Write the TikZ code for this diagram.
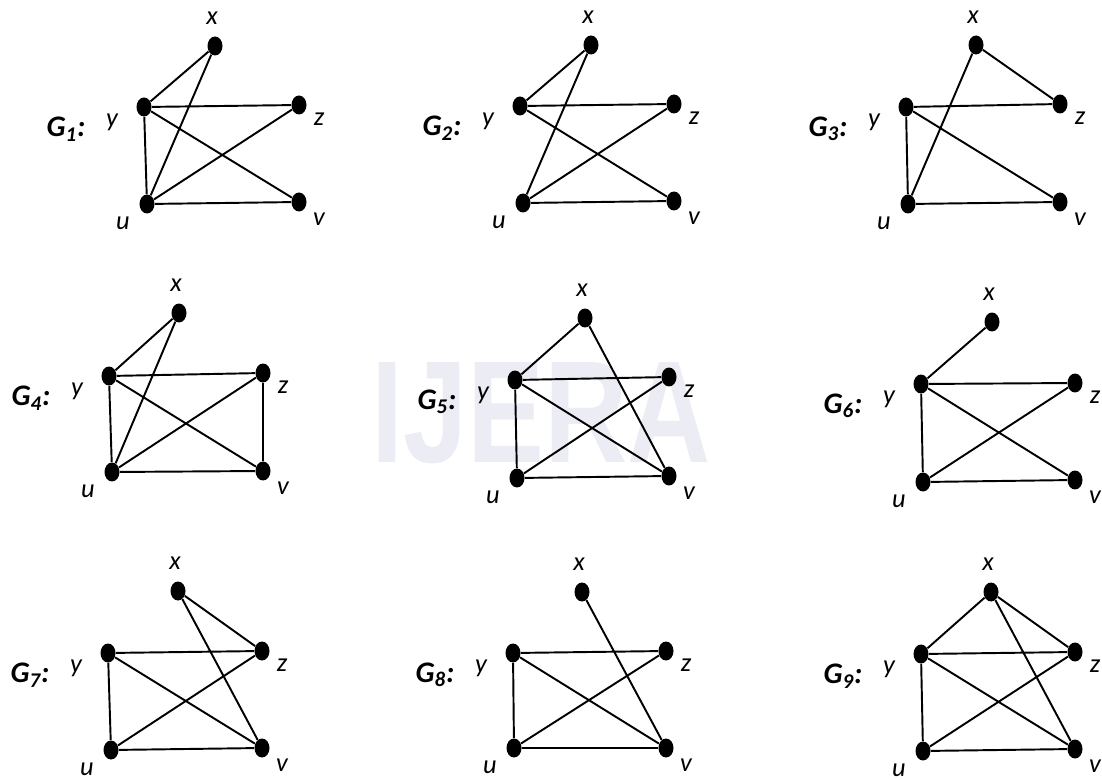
\documentclass[tikz,border=0pt]{standalone}
\usepackage{fontspec}
\setmainfont{Carlito}
\newfontfamily\wmfont{Liberation Sans}
\usetikzlibrary{shapes.geometric, positioning}
\definecolor{wmgray}{RGB}{236,237,244}

\newcommand{\graphverts}[6]{%
  % the five vertices of G_#1 and their labels
  \node[vtx] (x#1) at #2 {};
  \node[vtx] (y#1) at #3 {};
  \node[vtx] (z#1) at #4 {};
  \node[vtx] (u#1) at #5 {};
  \node[vtx] (v#1) at #6 {};
  \node[vlbl] (lx#1) at ([shift={(-3,-28)}] x#1) {x};
  \node[vlbl] (ly#1) at ([shift={(-32,15)}] y#1) {y};
  \node[vlbl] (lz#1) at ([shift={(20,14)}] z#1) {z};
  \node[vlbl] (lu#1) at ([shift={(-24,19)}] u#1) {u};
  \node[vlbl] (lv#1) at ([shift={(20,17)}] v#1) {v};
  \node[glbl] (g#1) at ([shift={(-78,22)}] y#1) {G\textsubscript{#1}:};
}

\begin{document}
\begin{tikzpicture}[
    x=0.02cm, y=-0.02cm,
    vtx/.style={ellipse, fill=black, inner sep=0pt, minimum width=0.3cm, minimum height=0.38cm},
    edge/.style={line width=1.1pt},
    vlbl/.style={font=\fontsize{15}{18}\selectfont\itshape, inner sep=0pt},
    glbl/.style={font=\fontsize{17}{20}\selectfont\bfseries\itshape, inner sep=0pt},
    wmark/.style={text=wmgray, inner sep=0pt}
  ]
  \useasboundingbox (0,0) rectangle (1102,780);
  % faint journal watermark
  \node[wmark] (ijera) at (541,413) {\resizebox{6.8cm}{2.0cm}{\wmfont\bfseries IJERA}};

  % top row
  \graphverts{1}{(215,46)}{(144,107)}{(299,105)}{(147,204)}{(299,202)}
  \draw[edge] (x1) -- (y1) (x1) -- (u1) (y1) -- (z1) (y1) -- (v1)
    (y1) -- (u1) (u1) -- (z1) (u1) -- (v1);

  \graphverts{2}{(591,45)}{(520,106)}{(674,104)}{(523,203)}{(674,201)}
  \draw[edge] (x2) -- (y2) (x2) -- (u2) (y2) -- (z2) (y2) -- (v2)
    (u2) -- (z2) (u2) -- (v2);

  \graphverts{3}{(976,45)}{(906,107)}{(1060,104)}{(908,204)}{(1060,202)}
  \draw[edge] (x3) -- (z3) (x3) -- (u3) (y3) -- (z3) (y3) -- (v3)
    (y3) -- (u3) (u3) -- (v3);

  % middle row
  \graphverts{4}{(179,313)}{(109,376)}{(263,373)}{(112,472)}{(263,471)}
  \draw[edge] (x4) -- (y4) (x4) -- (u4) (y4) -- (z4) (y4) -- (v4)
    (y4) -- (u4) (u4) -- (z4) (u4) -- (v4) (z4) -- (v4);

  \graphverts{5}{(585,318)}{(515,380)}{(669,377)}{(517,478)}{(669,476)}
  \draw[edge] (x5) -- (y5) (x5) -- (v5) (y5) -- (z5) (y5) -- (v5)
    (y5) -- (u5) (u5) -- (z5) (u5) -- (v5);

  \graphverts{6}{(992,322)}{(921,384)}{(1075,383)}{(923,482)}{(1075,480)}
  \draw[edge] (x6) -- (y6) (y6) -- (z6) (y6) -- (v6) (y6) -- (u6)
    (u6) -- (z6) (u6) -- (v6);

  % bottom row
  \graphverts{7}{(178,591)}{(108,653)}{(262,651)}{(111,750)}{(262,748)}
  \draw[edge] (x7) -- (z7) (x7) -- (v7) (y7) -- (z7) (y7) -- (v7)
    (y7) -- (u7) (u7) -- (z7) (u7) -- (v7);

  \graphverts{8}{(582,592)}{(513,653)}{(666,651)}{(514,748)}{(666,748)}
  \draw[edge] (x8) -- (v8) (y8) -- (z8) (y8) -- (v8) (y8) -- (u8)
    (u8) -- (z8) (u8) -- (v8);

  \graphverts{9}{(991,592)}{(921,654)}{(1075,652)}{(923,751)}{(1075,749)}
  \draw[edge] (x9) -- (y9) (x9) -- (z9) (x9) -- (v9) (y9) -- (z9)
    (y9) -- (v9) (y9) -- (u9) (u9) -- (z9) (u9) -- (v9);
\end{tikzpicture}
\end{document}
